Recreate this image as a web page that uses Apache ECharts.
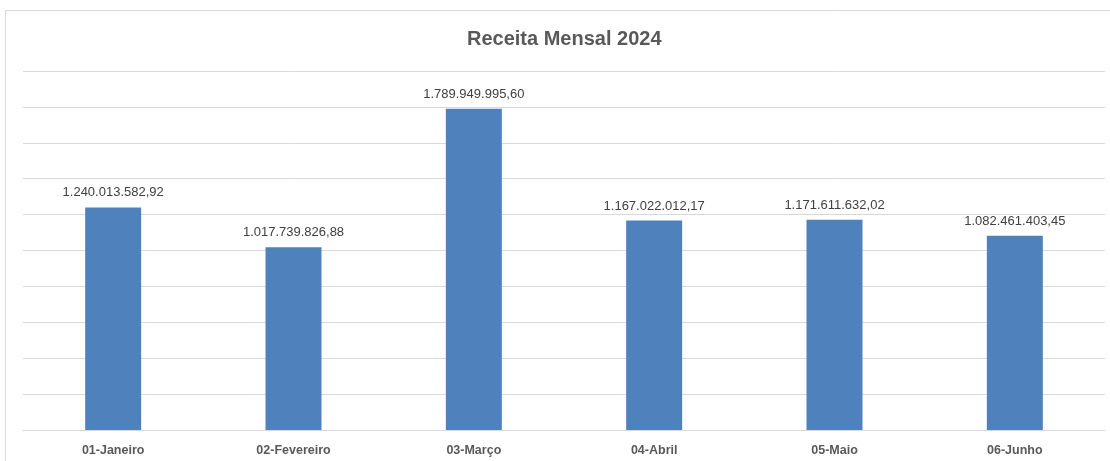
<!DOCTYPE html>
<html><head><meta charset="utf-8">
<script src="https://cdn.jsdelivr.net/npm/echarts@6/dist/echarts.min.js"></script>
<style>html,body{margin:0;padding:0;background:#fff}#c{width:1110px;height:461px}</style>
</head><body><div id="c"></div>
<script>
const categories = ['01-Janeiro','02-Fevereiro','03-Março','04-Abril','05-Maio','06-Junho'];
const receita = [1240013582.92, 1017739826.88, 1789949995.60, 1167022012.17, 1171611632.02, 1082461403.45];
const yMin = 0, yMax = 2000000000, yInterval = 200000000;

function fmtBR(v){
  const parts = v.toFixed(2).split('.');
  const int = parts[0].replace(/\B(?=(\d{3})+(?!\d))/g, '.');
  return int + ',' + parts[1];
}

const chart = echarts.init(document.getElementById('c'), null, {renderer:'canvas'});
chart.setOption({
  animation:false,
  title:{text:'Receita Mensal 2024', left:462, top:24,
    textStyle:{fontFamily:'Liberation Sans', fontSize:20, fontWeight:'bold', color:'#595959'}},
  graphic:[{type:'rect', shape:{x:5.5,y:10.5,width:1200,height:600}, style:{fill:'none', stroke:'#d9d9d9', lineWidth:1}, silent:true}],
  grid:{left:23, right:5, top:71, bottom:31},
  xAxis:{type:'category', data:categories,
    axisLine:{lineStyle:{color:'#d9d9d9'}}, axisTick:{show:false},
    axisLabel:{fontFamily:'Liberation Sans', fontSize:12.5, fontWeight:'bold', color:'#595959', margin:14}},
  yAxis:{type:'value', min:yMin, max:yMax, interval:yInterval,
    axisLabel:{show:false}, axisLine:{show:false}, axisTick:{show:false},
    splitLine:{lineStyle:{color:'#d9d9d9'}}},
  series:[{type:'bar', data:receita, barWidth:56,
    itemStyle:{color:'#4f81bd'},
    label:{show:true, position:'top', distance:8, formatter:p=>fmtBR(p.value),
      fontFamily:'Liberation Sans', fontSize:13, color:'#404040'}}]
});
</script></body></html>
